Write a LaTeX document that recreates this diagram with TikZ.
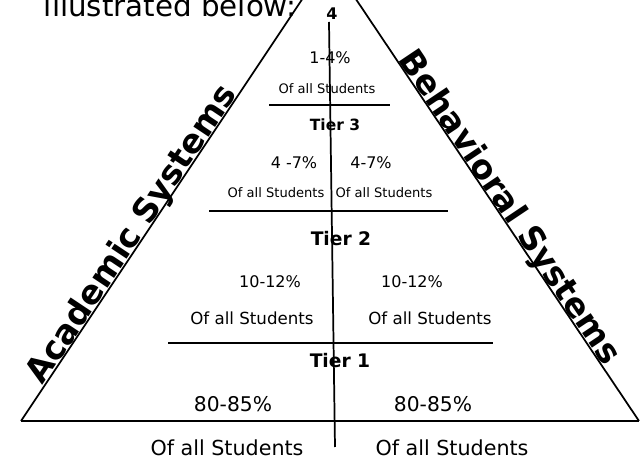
\documentclass[tikz,border=0pt]{standalone}
\usepackage{fontspec}
\setmainfont{DejaVu Sans}
\begin{document}
\begin{tikzpicture}[x=0.75pt, y=-0.75pt, line width=1.3pt,
		side/.style={font=\bfseries\fontsize{25}{28}\selectfont, sloped, anchor=base, inner sep=0pt},
		tier/.style={font=\bfseries\fontsize{14}{16}\selectfont},
		pct/.style={font=\fontsize{12}{14}\selectfont},
		share/.style={font=\fontsize{12.5}{14}\selectfont}]
			\useasboundingbox (0,0) rectangle (640,459);
			\clip (0,0) rectangle (640,459);
			\node[anchor=base west, inner sep=0pt, font=\fontsize{22}{26}\selectfont] (P_title) at (43,17) {illustrated below:};
			\coordinate (P_L) at (21,421);
			\coordinate (P_A) at (329,-41);
			\coordinate (P_R) at (639,421);
			\draw (P_L) -- (P_A) node[side, pos=0.39, yshift=1pt] {Academic Systems};
			\draw (P_A) -- (P_R) node[side, pos=0.552, yshift=1pt] {Behavioral Systems};
			\draw (P_L) -- (P_R);
			\node[font=\bfseries\fontsize{12}{14}\selectfont, inner sep=0pt] (P_0_0) at (332,14) {4};
			\coordinate (P_0_top) at (329,22);
			\coordinate (P_0_bot) at (335,447);
			\draw (P_0_top) -- (P_0_bot);
			\node[pct] (P_3_0) at (330,58) {1-4\%};
			\node[share, font=\fontsize{9.8}{12}\selectfont] (P_3_1) at (327,89) {Of all Students};
			\coordinate (P_3_l) at (269,105);
			\coordinate (P_3_r) at (390,105);
			\draw (P_3_l) -- (P_3_r);
			\node[tier, font=\bfseries\fontsize{11.6}{14}\selectfont] (P_3_2) at (335,125) {Tier 3};
			\node[pct] (P_2_0) at (294,163) {4 -7\%};
			\node[pct] (P_2_1) at (371,163) {4-7\%};
			\node[share, font=\fontsize{9.8}{12}\selectfont] (P_2_2) at (276,193) {Of all Students};
			\node[share, font=\fontsize{9.8}{12}\selectfont] (P_2_3) at (384,193) {Of all Students};
			\coordinate (P_2_l) at (209,211);
			\coordinate (P_2_r) at (448,211);
			\draw (P_2_l) -- (P_2_r);
			\node[tier] (P_2_4) at (341,239) {Tier 2};
			\node[pct] (P_1_0) at (270,282) {10-12\%};
			\node[pct] (P_1_1) at (412,282) {10-12\%};
			\node[share] (P_1_2) at (252,318) {Of all Students};
			\node[share] (P_1_3) at (430,318) {Of all Students};
			\coordinate (P_1_l) at (168,343);
			\coordinate (P_1_r) at (493,343);
			\draw (P_1_l) -- (P_1_r);
			\node[tier] (P_1_4) at (340,361) {Tier 1};
			\node[pct, font=\fontsize{15.2}{18}\selectfont] (P_0_1) at (233,404) {80-85\%};
			\node[pct, font=\fontsize{15.2}{18}\selectfont] (P_0_2) at (433,404) {80-85\%};
			\node[share, font=\fontsize{15.5}{18}\selectfont] (P_0_3) at (227,448) {Of all Students};
			\node[share, font=\fontsize{15.5}{18}\selectfont] (P_0_4) at (452,448) {Of all Students};
		\end{tikzpicture}
\end{document}
